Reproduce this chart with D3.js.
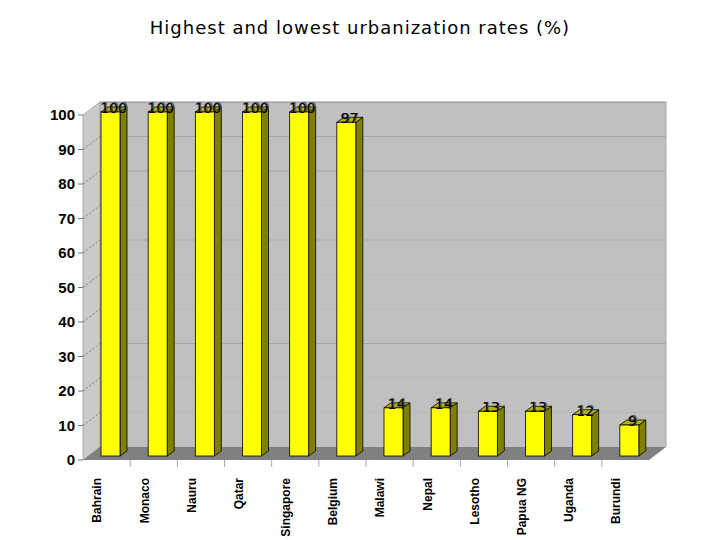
<!DOCTYPE html>
<html>
<head>
<meta charset="utf-8">
<script src="https://cdn.jsdelivr.net/npm/d3@7"></script>
<style>
  body { margin: 0; background: #fff; }
  svg { display: block; }
</style>
</head>
<body>
<svg id="chart" width="720" height="540"></svg>
<script>
// ----- data -----
const countries = ["Bahrain", "Monaco", "Nauru", "Qatar", "Singapore", "Belgium",
                   "Malawi", "Nepal", "Lesotho", "Papua NG", "Uganda", "Burundi"];
const rates = [100, 100, 100, 100, 100, 97, 14, 14, 13, 13, 12, 9];
const yTicks = [0, 10, 20, 30, 40, 50, 60, 70, 80, 90, 100];

const svg = d3.select("#chart");

// depth of the 3D box
const DX = 17, DY = -13;
const left = 83, right = 649;

const x = d3.scaleBand().domain(countries).range([left, right]);
const yFront = d3.scaleLinear().domain([0, 100]).range([460, 115]);
const yBack = d3.scaleLinear().domain([0, 100]).range([460 + DY, 115 + DY]);
const yBar = d3.scaleLinear().domain([0, 100]).range([456, 112]);

// title
svg.append("text")
  .attr("x", 360).attr("y", 34)
  .attr("text-anchor", "middle")
  .attr("font-family", "DejaVu Sans, sans-serif")
  .attr("font-size", 18)
  .attr("letter-spacing", 1)
  .text("Highest and lowest urbanization rates (%)");

// back wall
svg.append("rect")
  .attr("x", left + DX).attr("y", yBack(100))
  .attr("width", right - left).attr("height", yBack(0) - yBack(100))
  .attr("fill", "#c0c0c0");

// back wall grid
svg.append("g").selectAll("line")
  .data(yTicks.filter(d => d > 0 && d < 100))
  .join("line")
  .attr("x1", left + DX).attr("x2", right + DX)
  .attr("y1", d => yBack(d)).attr("y2", d => yBack(d))
  .attr("stroke", d => d % 30 === 0 || d === 80 ? "#a4a4a4" : "#b8b8b8")
  .attr("stroke-width", 1);

// wall top edge
svg.append("line")
  .attr("x1", left + DX).attr("x2", right + DX)
  .attr("y1", yBack(100)).attr("y2", yBack(100))
  .attr("stroke", "#888").attr("stroke-width", 1);
svg.append("line")
  .attr("x1", right + DX).attr("x2", right + DX)
  .attr("y1", yBack(100)).attr("y2", yBack(0))
  .attr("stroke", "#a8a8a8").attr("stroke-width", 1);

// side wall
svg.append("polygon")
  .attr("points", [[left, yFront(100)], [left + DX, yBack(100)], [left + DX, yBack(0)], [left, yFront(0)]].join(" "))
  .attr("fill", "#cacaca")
  .attr("stroke", "#999").attr("stroke-width", 0.8);

// side wall dashed lines
svg.append("g").selectAll("line")
  .data(yTicks.filter(d => d > 0 && d < 100))
  .join("line")
  .attr("x1", left).attr("y1", d => yFront(d))
  .attr("x2", left + DX).attr("y2", d => yBack(d))
  .attr("stroke", "#666").attr("stroke-width", 0.8)
  .attr("stroke-dasharray", "2,2");

// floor
svg.append("polygon")
  .attr("points", [[left, yFront(0)], [left + DX, yBack(0)], [right + DX, yBack(0)], [right, yFront(0)]].join(" "))
  .attr("fill", "#808080");

// y axis ticks
svg.append("g").selectAll("line")
  .data(yTicks)
  .join("line")
  .attr("x1", left - 5).attr("x2", left)
  .attr("y1", d => yFront(d)).attr("y2", d => yFront(d))
  .attr("stroke", "#777");

svg.append("g").selectAll("text")
  .data(yTicks)
  .join("text")
  .attr("x", 75).attr("y", d => yFront(d))
  .attr("dy", "0.36em")
  .attr("text-anchor", "end")
  .attr("font-family", "Liberation Sans, Arial, sans-serif")
  .attr("font-weight", "bold")
  .attr("font-size", 15)
  .text(d => d);

// x axis ticks (category boundaries)
svg.append("g").selectAll("line")
  .data(countries.slice(1))
  .join("line")
  .attr("x1", d => x(d)).attr("x2", d => x(d))
  .attr("y1", yFront(0)).attr("y2", yFront(0) + 7)
  .attr("stroke", "#aaa");

// bars
const bw = 19, bdx = 7, bdy = -5, boff = 18;
const bars = svg.append("g").selectAll("g")
  .data(countries.map((c, i) => ({ c, v: rates[i] })))
  .join("g");

bars.append("polygon") // side
  .attr("points", d => {
    const x1 = x(d.c) + boff + bw, t = yBar(d.v), b = yBar(0);
    return [[x1, t], [x1 + bdx, t + bdy], [x1 + bdx, b + bdy], [x1, b]].join(" ");
  })
  .attr("fill", "#808000").attr("stroke", "#000").attr("stroke-width", 0.8);

bars.append("polygon") // top
  .attr("points", d => {
    const x0 = x(d.c) + boff, t = yBar(d.v);
    return [[x0, t], [x0 + bdx, t + bdy], [x0 + bw + bdx, t + bdy], [x0 + bw, t]].join(" ");
  })
  .attr("fill", "#b3b300").attr("stroke", "#000").attr("stroke-width", 0.8);

bars.append("rect") // front
  .attr("x", d => x(d.c) + boff).attr("y", d => yBar(d.v))
  .attr("width", bw).attr("height", d => yBar(0) - yBar(d.v))
  .attr("fill", "#ffff00").attr("stroke", "#000").attr("stroke-width", 0.8);

// value labels (drawn twice for the shadow look)
[["#555", 1.2], ["#000", 0]].forEach(([col, off]) => {
  bars.append("text")
    .attr("x", d => x(d.c) + boff + bw / 2 + 3 + off)
    .attr("y", d => yBar(d.v) + 1 - off * 0.5)
    .attr("text-anchor", "middle")
    .attr("font-family", "DejaVu Sans, sans-serif")
    .attr("font-size", 14)
    .attr("fill", col)
    .text(d => d.v);
});

// category labels
svg.append("g").selectAll("text")
  .data(countries)
  .join("text")
  .attr("transform", d => `translate(${x(d) + x.bandwidth() / 2 - 9.5},478) rotate(-90)`)
  .attr("dy", "0.36em")
  .attr("text-anchor", "end")
  .attr("font-family", "Liberation Sans, Arial, sans-serif")
  .attr("font-weight", "bold")
  .attr("font-size", 12)
  .text(d => d);
</script>
</body>
</html>
